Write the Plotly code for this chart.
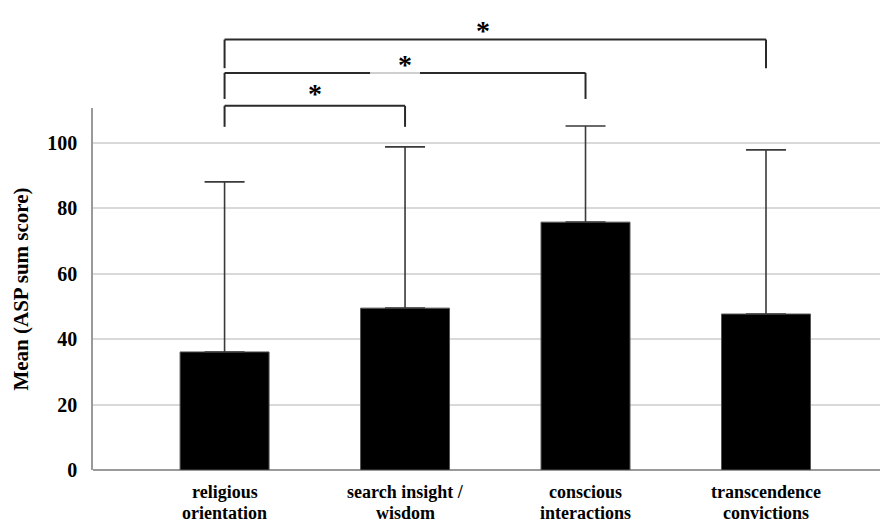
import plotly.graph_objects as go

categories = ["religious<br>orientation", "search insight /<br>wisdom",
              "conscious<br>interactions", "transcendence<br>convictions"]
means = [36.1, 49.5, 75.8, 47.7]
sd_plus = [52.0, 49.3, 29.4, 50.2]
y_ticks = [0, 20, 40, 60, 80, 100]

# significance comparisons (index pairs) and their labels
comparisons = [(0, 3), (0, 2), (0, 1)]
sig_labels = ["*", "*", "*"]

FONT = "Liberation Serif"
xs = list(range(len(categories)))

fig = go.Figure()
fig.add_trace(go.Bar(
    x=xs, y=means, width=0.493,
    marker=dict(color="black", line=dict(color="#555555", width=1)),
    error_y=dict(type="data", array=sd_plus, symmetric=False,
                 arrayminus=[0] * len(means), color="#3a3a3a",
                 thickness=1.6, width=20),
))

# bracket geometry in paper units (above the plot area)
levels = [(1.189, 1.110, 1.213), (1.097, 1.025, 1.120), (1.006, 0.948, 1.041)]
line_col = "#2a2a2a"
for (a, b), lab, (yh, yl, ys) in zip(comparisons, sig_labels, levels):
    fig.add_shape(type="line", xref="x", yref="paper", x0=a, x1=a, y0=yl, y1=yh,
                  line=dict(color=line_col, width=2))
    fig.add_shape(type="line", xref="x", yref="paper", x0=b, x1=b, y0=yl, y1=yh,
                  line=dict(color=line_col, width=2))
    fig.add_shape(type="line", xref="x", yref="paper", x0=a, x1=b, y0=yh, y1=yh,
                  line=dict(color=line_col, width=2))
    fig.add_annotation(x=(a + b) / 2 - (0.07 if b == 3 else 0), y=ys, xref="x", yref="paper",
                       text="<b>" + lab + "</b>", showarrow=False,
                       font=dict(family=FONT, size=28, color="black"),
                       yanchor="middle")
# faint gap in the middle bracket line (as in the source image)
fig.add_shape(type="line", xref="x", yref="paper", x0=0.806, x1=1.083, y0=1.097, y1=1.097,
              line=dict(color="#cfcfcf", width=2))

# category labels (two lines each, tight spacing)
for i, c in enumerate(categories):
    for j, part in enumerate(c.split("<br>")):
        fig.add_annotation(x=i, y=-0.0608 - 0.058 * j, xref="x", yref="paper",
                           text="<b>" + part + "</b>", showarrow=False,
                           font=dict(family=FONT, size=18, color="black"),
                           yanchor="middle")

fig.update_layout(
    width=880, height=517,
    margin=dict(l=85, r=0, t=100, b=55),
    paper_bgcolor="white", plot_bgcolor="white",
    showlegend=False,
    font=dict(family=FONT, color="black"),
)
fig.update_xaxes(
    range=[-0.729, 3.676], tickvals=xs, showticklabels=False,
    showgrid=False, showline=False, zeroline=False, ticks="",
)
fig.update_yaxes(
    range=[0, 110.7], tickvals=y_ticks, ticktext=["<b>%d</b>" % v for v in y_ticks],
    tickfont=dict(family=FONT, size=20, color="black"),
    showgrid=True, gridcolor="#d9d9d9", gridwidth=1.5,
    showline=True, linecolor="#9a9a9a", linewidth=1.5,
    zeroline=True, zerolinecolor="#9a9a9a", zerolinewidth=1.5,
    ticks="", ticklabelstandoff=10,
    title=dict(text="<b>Mean (ASP sum score)</b>", font=dict(family=FONT, size=21, color="black"), standoff=13),
)

fig.write_html("out.html")
